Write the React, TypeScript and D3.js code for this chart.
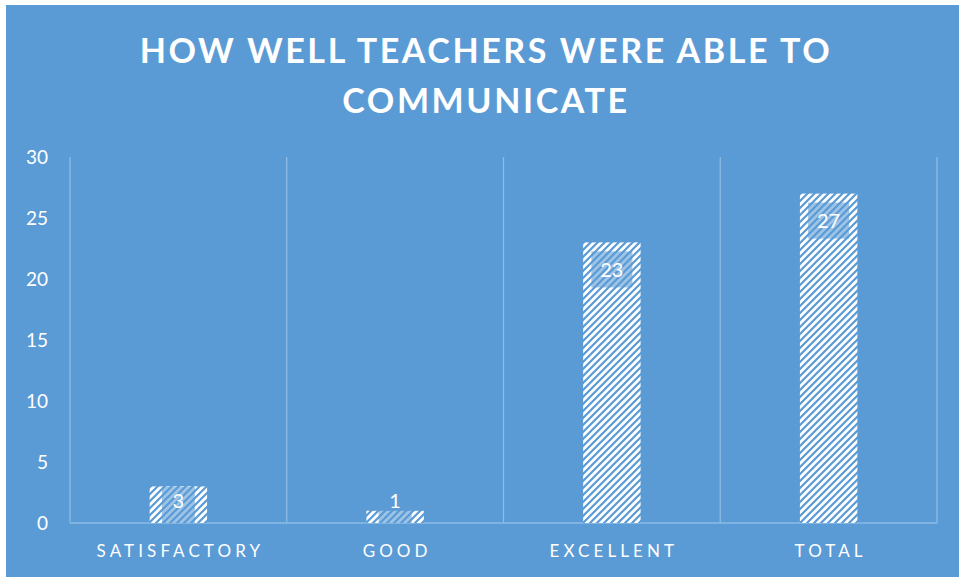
import React from "react";
import * as d3 from "d3";

const categories = ["SATISFACTORY", "GOOD", "EXCELLENT", "TOTAL"];
const values = [3, 1, 23, 27];
const yTicks = [0, 5, 10, 15, 20, 25, 30];
const titleLines = ["HOW WELL TEACHERS WERE ABLE TO", "COMMUNICATE"];

const W = 959;
const H = 578;
const BG = "#5B9BD5";
const FONT = "Lato, 'Open Sans', sans-serif";

export default function App() {
  const left = 70, right = 937, top = 157, bottom = 523;
  const x = d3.scaleBand<string>().domain(categories).range([left, right]).paddingInner(0).paddingOuter(0);
  const y = d3.scaleLinear().domain([0, 30]).range([bottom, top]);
  const barW = x.bandwidth() * 0.265;
  const gridXs = [...categories.map((c) => x(c)!), right];

  return (
    <div style={{ position: "absolute", left: 0, top: 0, width: W, height: H }}>
      <svg width={W} height={H} style={{ display: "block" }}>
        <defs>
          <pattern id="hatch" patternUnits="userSpaceOnUse" width="7" height="7">
            <rect width="7" height="7" fill="#ffffff" />
            <path d="M-1,1 l2,-2 M0,7 l7,-7 M6,8 l2,-2" stroke={BG} strokeWidth="2.2" />
          </pattern>
        </defs>
        <rect x={0} y={0} width={W} height={H} fill="#ffffff" />
        <rect x={6} y={5} width={W - 6} height={572} fill={BG} />
        {titleLines.map((t, i) => (
          <text
            key={t}
            x={486}
            y={63 + i * 50}
            textAnchor="middle"
            fill="#ffffff"
            fontFamily={FONT}
            fontWeight={700}
            fontSize={34}
            letterSpacing={2.6}
          >
            {t}
          </text>
        ))}
        {gridXs.map((gx, i) => (
          <line key={i} x1={gx} x2={gx} y1={top} y2={bottom} stroke="#8DBBE5" strokeWidth={1.3} />
        ))}
        <line x1={left} x2={right} y1={bottom} y2={bottom} stroke="#8DBBE5" strokeWidth={1.3} />
        {yTicks.map((t) => (
          <text
            key={t}
            x={48}
            y={y(t)}
            dy="0.36em"
            textAnchor="end"
            fill="#ffffff"
            fontFamily={FONT}
            fontSize={19}
          >
            {t}
          </text>
        ))}
        {categories.map((c) => (
          <text
            key={c}
            x={x(c)! + x.bandwidth() / 2 + 2}
            y={557}
            textAnchor="middle"
            fill="#ffffff"
            fontFamily={FONT}
            fontSize={17}
            letterSpacing={4.1}
          >
            {c}
          </text>
        ))}
        {categories.map((c, i) => {
          const cx = x(c)! + x.bandwidth() / 2;
          const v = values[i];
          const by = y(v);
          const bh = bottom - by;
          const label = String(v);
          const boxW = label.length > 1 ? 41 : 33;
          const boxH = 36;
          const boxTop = Math.min(by + 9, bottom - boxH);
          return (
            <g key={c}>
              <rect x={cx - barW / 2} y={by} width={barW} height={bh} fill="url(#hatch)" />
              <rect x={cx - boxW / 2} y={boxTop} width={boxW} height={boxH} fill={BG} fillOpacity={0.6} />
              <text
                x={cx}
                y={boxTop + boxH / 2 + (v < 5 ? -4 : 0)}
                dy="0.36em"
                textAnchor="middle"
                fill="#ffffff"
                fontFamily={FONT}
                fontSize={20}
              >
                {label}
              </text>
            </g>
          );
        })}
      </svg>
    </div>
  );
}
